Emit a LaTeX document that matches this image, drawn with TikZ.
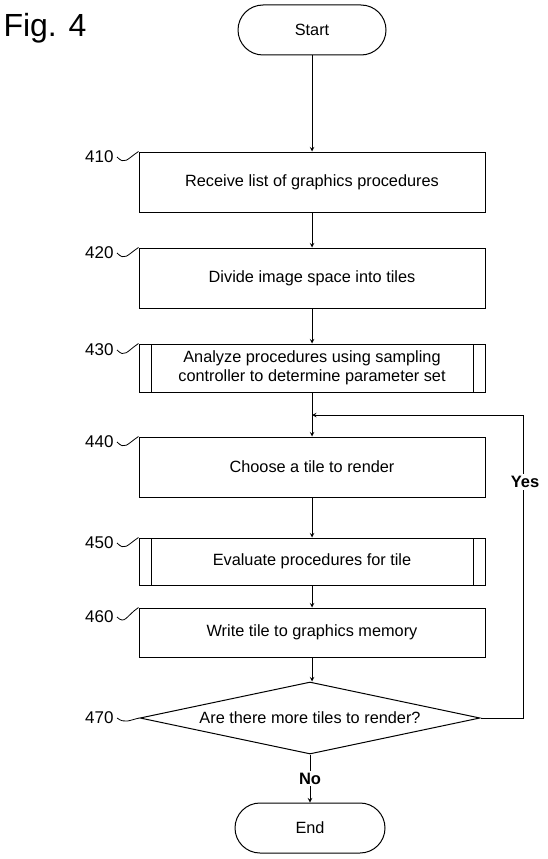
\documentclass[tikz,border=0pt]{standalone}
\usepackage{fontspec}
\setmainfont{Liberation Sans}
\usetikzlibrary{arrows}
\usetikzlibrary{shapes.geometric}

\begin{document}
\begin{tikzpicture}[
x = 1pt, y = -1pt,
font = \fontsize{16.3}{19.5}\selectfont,
procrect/.style={rectangle, align = center, 
draw = black, line width = 1pt, minimum width = 346pt, minimum height = 60pt, inner sep = 0pt}, 
subrect/.style={procrect, minimum height = 48pt, 
path picture = {\draw[line width = 1pt] ([xshift = 12pt]path picture bounding box.north west) -- ([xshift = 12pt]path picture bounding box.south west);
\draw[line width = 1pt] ([xshift = -12pt]path picture bounding box.north east) -- ([xshift = -12pt]path picture bounding box.south east);}},
termrect/.style={rectangle, align = center, draw = black, line width = 1pt, 
rounded corners = 25pt, minimum width = 148pt, minimum height = 50pt},
decdia/.style={diamond, align = center, draw = black, line width = 1pt, aspect = 4.7, 
minimum width = 340pt, minimum height = 72pt, inner sep = 0pt},
flowarr/.style={>=stealth, ->, line width = 1pt, draw = black}, 
refnum/.style={anchor = east, font = \fontsize{17}{20}\selectfont},
squig/.style={line width = 0.8pt},
answer/.style={fill = white, inner sep = 2pt, font = \bfseries\fontsize{16.5}{20}\selectfont}]

\useasboundingbox (0,0) rectangle (547,859);

\node[font = \fontsize{32}{38}\selectfont] (fig) at (45,28) {Fig. 4};

\node[termrect] (start) at (312,30) {Start};
\node[procrect, minimum height = 60pt] (b410) at (312,182) {Receive list of graphics procedures};
\node[procrect, minimum height = 60pt] (b420) at (312,278) {Divide image space into tiles};
\node[subrect] (b430) at (312,368) {Analyze procedures using sampling\\controller to determine parameter set};
\node[procrect, minimum height = 60pt] (b440) at (312,467) {Choose a tile to render};
\node[subrect, minimum height = 47pt] (b450) at (312,561.5) {Evaluate procedures for tile};
\node[procrect, minimum height = 49pt] (b460) at (312,632.5) {Write tile to graphics memory};
\node[decdia] (d470) at (310,718) {Are there more tiles to render?};
\node[termrect, minimum width = 150pt] (end) at (310,828) {End};

% reference numbers
\node[refnum] (l410) at (117,157) {410};
\node[refnum] (l420) at (117,253) {420};
\node[refnum] (l430) at (117,350) {430};
\node[refnum] (l440) at (117,442) {440};
\node[refnum] (l450) at (117,543) {450};
\node[refnum] (l460) at (117,617) {460};
\node[refnum] (l470) at (117,718) {470};

\draw[squig] (l410.east) .. controls +(8,8) and +(-12,8) .. (b410.north west);
\draw[squig] (l420.east) .. controls +(8,8) and +(-12,8) .. (b420.north west);
\draw[squig] (l430.east) .. controls +(8,8) and +(-12,8) .. (b430.north west);
\draw[squig] (l440.east) .. controls +(8,8) and +(-12,8) .. (b440.north west);
\draw[squig] (l450.east) .. controls +(8,8) and +(-12,8) .. (b450.north west);
\draw[squig] (l460.east) .. controls +(8,8) and +(-12,8) .. (b460.north west);
\draw[squig] (l470.east) .. controls +(8,6) and +(-10,2) .. (d470.west);

% flow
\draw[flowarr] (start.south) -- (b410.north);
\draw[flowarr] (b410.south) -- (b420.north);
\draw[flowarr] (b420.south) -- (b430.north);
\draw[flowarr] (b430.south) -- (b440.north);
\draw[flowarr] (b440.south) -- (b450.north);
\draw[flowarr] (b450.south) -- (b460.north);
\draw[flowarr] (b460.south) -- (b460.south |- d470.north);
\draw[flowarr] (d470.south) -- node[answer] {No} (end.north);

\coordinate (loopin) at (312,415);
\coordinate (loopcorner) at (523,415);
\draw[flowarr] (d470.east) -| (loopcorner) -- (loopin);
\node[answer] (yes) at (525,482) {Yes};
\end{tikzpicture}
\end{document}
